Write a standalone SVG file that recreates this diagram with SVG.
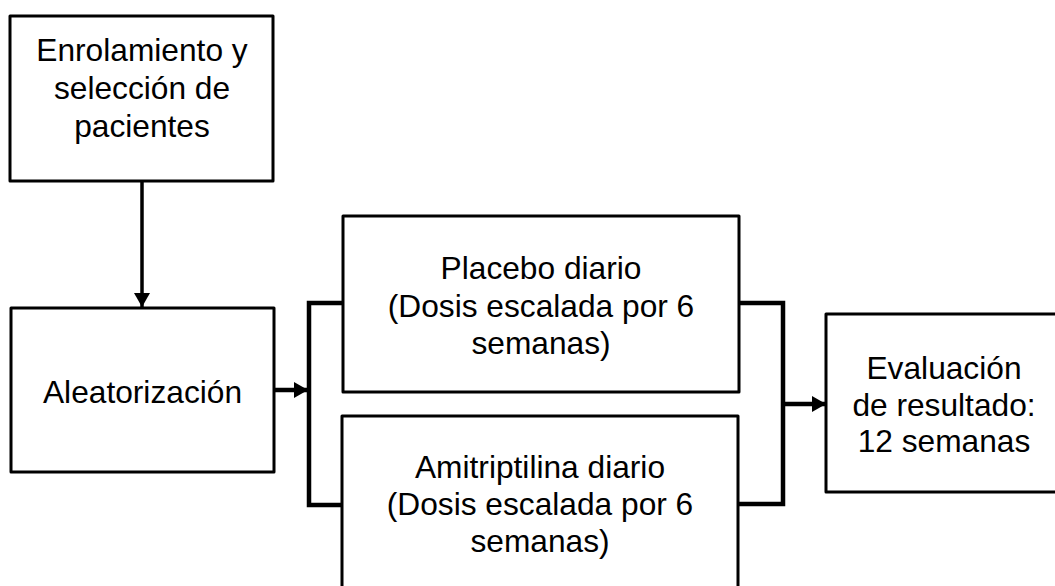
<svg xmlns="http://www.w3.org/2000/svg" width="1055" height="586" viewBox="0 0 1055 586">
<style>
.box{fill:#fff;stroke:#000;stroke-width:3;stroke-linejoin:round}
.t{font-family:"Liberation Sans",Arial,sans-serif;font-size:31.7px;fill:#000;text-anchor:middle}
.c{fill:none;stroke:#000;stroke-width:3.5}
.cb{fill:none;stroke:#000;stroke-width:4.5}
</style>
<defs>
<marker id="ah" markerUnits="userSpaceOnUse" markerWidth="16" markerHeight="16" viewBox="0 0 14 16" refX="14" refY="8" orient="auto">
<path d="M0,0 L14,8 L0,16 Z" fill="#000"/>
</marker>
</defs>
<rect width="1055" height="586" fill="#fff"/>
<g id="connectors">
<line class="c" x1="142" y1="181" x2="142" y2="307" marker-end="url(#ah)"/>
<line class="cb" x1="274" y1="390" x2="308" y2="390" marker-end="url(#ah)"/>
<path class="cb" d="M343,303 H309 V505 H342"/>
<path class="cb" d="M739,303 H783 V504 H738"/>
<line class="cb" x1="783" y1="404" x2="826" y2="404" marker-end="url(#ah)"/>
</g>
<g id="enrolamiento">
<rect class="box" x="10" y="16" width="263" height="165"/>
<text class="t" x="142" y="61">Enrolamiento y</text>
<text class="t" x="142" y="99">selección de</text>
<text class="t" x="142" y="137">pacientes</text>
</g>
<g id="aleatorizacion">
<rect class="box" x="11" y="308" width="263" height="164"/>
<text class="t" x="142.5" y="403">Aleatorización</text>
</g>
<g id="placebo">
<rect class="box" x="343" y="216" width="396" height="176"/>
<text class="t" x="541" y="279">Placebo diario</text>
<text class="t" x="541" y="316.5">(Dosis escalada por 6</text>
<text class="t" x="541" y="354">semanas)</text>
</g>
<g id="amitriptilina">
<rect class="box" x="342" y="416" width="396" height="180"/>
<text class="t" x="540" y="478">Amitriptilina diario</text>
<text class="t" x="540" y="515">(Dosis escalada por 6</text>
<text class="t" x="540" y="552">semanas)</text>
</g>
<g id="evaluacion">
<rect class="box" x="826" y="314" width="240" height="178"/>
<text class="t" x="944" y="379">Evaluación</text>
<text class="t" x="944" y="416">de resultado:</text>
<text class="t" x="944" y="452">12 semanas</text>
</g>
</svg>
